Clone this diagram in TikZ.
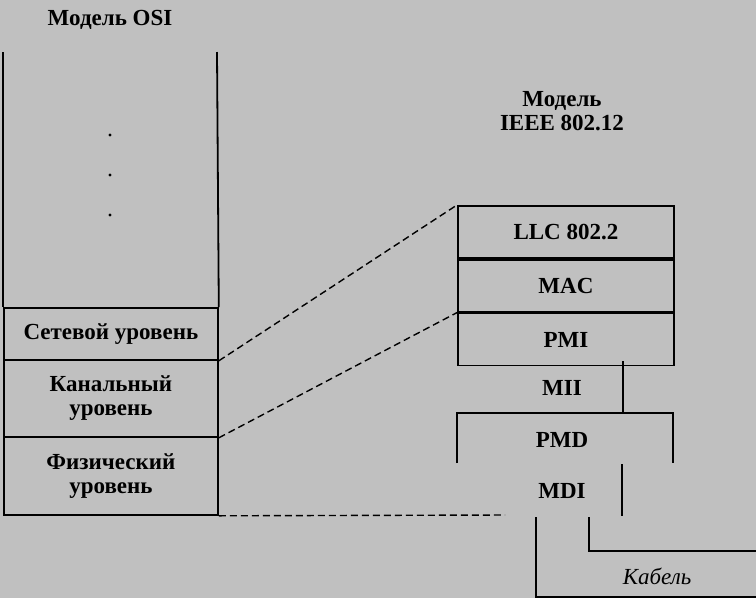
\documentclass[tikz,border=0pt]{standalone}
\usepackage{fontspec}
\setmainfont{Liberation Serif}
\usetikzlibrary{positioning, calc}
\definecolor{bggray}{RGB}{192,192,192}
\tikzset{
    base/.style={line width=1.8pt, draw=black},
    layer/.style={base, rectangle, inner sep=0pt, align=center, font=\fontsize{23}{24}\selectfont\bfseries},
    osilayer/.style={layer, minimum width=214pt, anchor=north west},
    ieeelayer/.style={layer, minimum width=216pt, minimum height=52pt, anchor=north west},
    label/.style={align=center, font=\fontsize{23}{24}\selectfont\bfseries, inner sep=0pt},
    link/.style={line width=1.4pt, dashed, dash pattern=on 7pt off 4pt},
    wire/.style={base}
}

\begin{document}
\begin{tikzpicture}[x=1pt, y=-1pt]
    \useasboundingbox[fill=bggray] (0,0) rectangle (756,598);

    % OSI model
    \node (osi) [label] at (110,20) {Модель OSI};
    \node (net) [osilayer, minimum height=52pt] at (3,307) {Сетевой уровень};
    \node (datalink) [osilayer, minimum height=77pt] at (3,359) {Канальный\\уровень};
    \node (phys) [osilayer, minimum height=78pt] at (3,436) {Физический\\уровень};
    \draw [wire] (3,52) -- (net.north west);
    \draw [wire] (217,52) -- (net.north east);
    \foreach \y in {135,175,215}
        \fill (110,\y) circle (1.6pt);

    % IEEE 802.12 model
    \node (ieee) [label] at (562,111) {Модель\\IEEE 802.12};
    \node (llc) [ieeelayer] at (457,205) {LLC 802.2};
    \node (mac) [ieeelayer, below=0pt of llc.south west, anchor=north west] {MAC};
    \node (pmi) [ieeelayer, below=0pt of mac.south west, anchor=north west] {PMI};
    \node (mii) [label] at (562,388) {MII};
    \node (pmd) [label] at (562,440) {PMD};
    \node (mdi) [label] at (562,491) {MDI};
    \node (cable) [label, font=\fontsize{23}{24}\selectfont\itshape] at (657,576) {Кабель};

    % Interfaces
    \draw [wire] (623,361) -- (623,413);
    \draw [wire] (457,463) -- (457,413) -- (673,413) -- (673,463);
    \draw [wire] (622,464) -- (622,516);
    \draw [wire] (589,517) -- (589,551) -- (756,551);
    \draw [wire] (536,517) -- (536,597) -- (756,597);

    % Mapping
    \coordinate (mdiend) at (505,515);
    \draw [link] (net.south east) -- (llc.north west);
    \draw [link] (datalink.south east) -- (pmi.north west);
    \draw [link] (phys.south east) -- (mdiend);
\end{tikzpicture}
\end{document}
